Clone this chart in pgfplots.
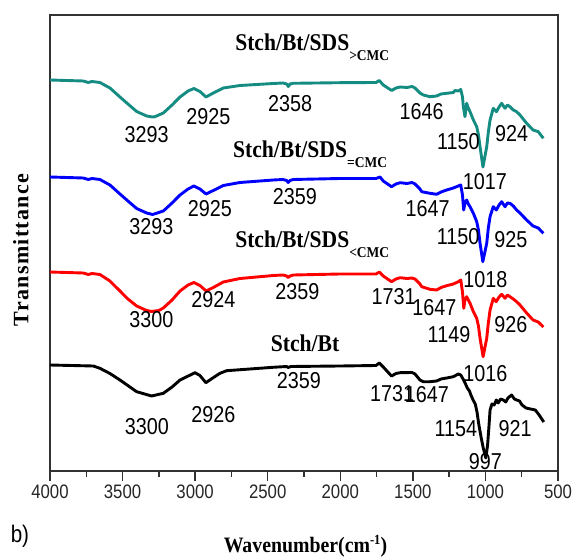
\documentclass[border=0pt]{standalone}
\usepackage{fontspec}
\setmainfont{Liberation Serif}
\newfontfamily\numfont{Liberation Sans}[FakeStretch=0.86]
\newfontfamily\tfont{Liberation Serif}[FakeStretch=0.9]
\newfontfamily\yfont{Liberation Serif}[LetterSpace=6]
\usepackage{pgfplots}
\pgfplotsset{compat=1.18}
\definecolor{tealc}{RGB}{20,140,130}
\definecolor{axgray}{RGB}{50,50,50}
\newcommand{\ann}[1]{{\numfont\fontsize{23}{23}\selectfont #1}}
\newcommand{\ttl}[2]{{\tfont\bfseries\fontsize{24}{24}\selectfont #1\raisebox{-10pt}{\fontsize{15}{15}\selectfont #2}}}
\begin{document}
\begin{tikzpicture}
\begin{axis}[
 scale only axis, width=508pt, height=456pt,
 at={(0,0)}, anchor=south west,
 xmin=500, xmax=4000, x dir=reverse,
 ymin=-471, ymax=-15,
 axis line style={line width=1.3pt, draw=axgray},
 ytick=\empty,
 xtick={500,1000,1500,2000,2500,3000,3500,4000},
 minor xtick={750,1250,1750,2250,2750,3250,3750},
 xtick pos=left,
 xtick align=outside,
 major tick length=10pt, minor tick length=6pt,
 every major tick/.append style={line width=1.4pt, draw=axgray},
 every minor tick/.append style={line width=1.4pt, draw=axgray},
 xticklabel style={font=\numfont\fontsize{19.5}{19.5}\selectfont, text=black!85},
 /pgf/number format/assume math mode=true,
 /pgf/number format/1000 sep={},
 clip=false,
 every axis plot/.append style={line width=2.9pt, line join=round},
]
% teal
\addplot[color=tealc] coordinates {
(4000,-80)(3771,-81)(3736,-82.5)(3711,-81.5)(3656,-82.5)(3587,-88)(3518,-97)(3463,-104)(3403,-111.5)(3334,-116)(3293,-117)(3277,-116.7)(3219,-113)(3159,-105)(3104,-97)(3049,-91)(3008,-88.5)(2967,-91.5)(2925,-97)(2875,-93)(2806,-88)(2691,-85.5)(2461,-83.5)(2395,-83)(2369,-84)(2358,-86.5)(2346,-84)(2324,-83.3)(2002,-82.7)(1754,-82.5)(1731,-80.5)(1704,-85)(1646,-90.5)(1616,-88)(1588,-87)(1540,-87.5)(1506,-86.5)(1485,-88)(1451,-93)(1428,-95)(1382,-96.7)(1336,-96)(1306,-94)(1267,-93.3)(1221,-92.5)(1210,-90.5)(1187,-91)(1170,-89.5)(1158,-97)(1152,-106.7)(1141,-116.7)(1129,-103.3)(1118,-108)(1106,-111.7)(1083,-120)(1060,-126.7)(1048,-135)(1037,-146.7)(1017,-167)(991,-146.7)(980,-132)(968,-120)(946,-108.3)(924,-111.7)(906,-107)(888,-103.3)(865,-108.3)(848,-105)(831,-106.7)(808,-110)(785,-111.7)(762,-115)(716,-123.3)(672,-130)(636,-131.7)(601,-138.3)
};
% blue
\addplot[color=blue] coordinates {
(4000,-177)(3771,-178)(3736,-179.5)(3711,-178.5)(3656,-179.5)(3587,-185)(3518,-194)(3463,-201)(3403,-208.5)(3334,-213)(3293,-214.5)(3219,-211)(3159,-203)(3104,-195)(3049,-189)(3008,-186)(2967,-189)(2925,-194)(2875,-190.5)(2806,-185.5)(2691,-182.5)(2461,-180)(2395,-179.5)(2369,-180.5)(2359,-182.5)(2346,-180.5)(2324,-179.5)(2002,-178.5)(1754,-178.5)(1726,-177)(1704,-181)(1647,-186.7)(1616,-184)(1588,-182.7)(1540,-183.5)(1506,-182.5)(1485,-184)(1451,-189)(1439,-191.7)(1382,-193.3)(1336,-194.3)(1306,-192)(1267,-190)(1221,-188)(1187,-186)(1170,-185)(1158,-195)(1150,-210)(1141,-203)(1129,-200)(1118,-204)(1106,-206.7)(1083,-213.3)(1060,-221.7)(1048,-230)(1037,-243.3)(1018,-261.7)(991,-243.3)(980,-228)(968,-216.7)(946,-206.7)(925,-210)(906,-205)(888,-201.7)(865,-206.7)(848,-203)(831,-203.3)(808,-206)(785,-210)(762,-213)(716,-220)(672,-226)(636,-228)(601,-233.3)
};
% red
\addplot[color=red] coordinates {
(4000,-272)(3771,-273)(3736,-274.5)(3711,-273.5)(3656,-274.5)(3587,-281)(3518,-291)(3463,-299)(3403,-306)(3334,-310.5)(3300,-311.5)(3250,-310.5)(3219,-308)(3159,-300)(3104,-291)(3049,-285)(3008,-282.5)(2967,-285.5)(2924,-291)(2875,-287.5)(2806,-282)(2691,-278.5)(2461,-275.5)(2395,-275)(2369,-276)(2359,-277.5)(2346,-276)(2324,-275)(2002,-274)(1754,-274)(1731,-272)(1704,-276)(1647,-281.7)(1616,-279)(1588,-277.7)(1540,-278.5)(1506,-278)(1485,-279)(1451,-284)(1439,-286.7)(1382,-289.3)(1336,-290)(1306,-287.5)(1267,-285.7)(1221,-284)(1187,-281.7)(1170,-280)(1158,-292)(1149,-308.3)(1141,-300)(1129,-296.7)(1118,-300)(1106,-303.3)(1083,-311.7)(1060,-318.3)(1048,-326)(1037,-338.3)(1016,-356.7)(991,-338.3)(980,-323)(968,-310)(946,-298.3)(926,-301.7)(906,-297)(888,-294.3)(865,-298.3)(848,-295)(831,-296.7)(808,-299)(785,-301.7)(762,-305)(716,-313)(672,-320)(636,-322)(601,-327)
};
% black
\addplot[color=black] coordinates {
(4000,-365)(3702,-366)(3656,-368.3)(3587,-373.5)(3518,-380)(3403,-391.7)(3300,-396)(3219,-393.3)(3159,-387)(3104,-380)(3001,-372.7)(2967,-375.5)(2926,-382.7)(2884,-378.5)(2829,-373.3)(2783,-370.7)(2464,-367.3)(2370,-366.5)(2359,-367.5)(2340,-366.5)(2002,-366)(1754,-365.5)(1731,-363)(1704,-367)(1647,-376)(1616,-373.5)(1588,-372.7)(1506,-372.5)(1485,-374)(1451,-380)(1428,-381.7)(1382,-381.7)(1336,-381)(1306,-379)(1267,-378)(1221,-376.7)(1187,-374)(1170,-375)(1158,-378)(1140,-383)(1125,-388)(1110,-391)(1100,-395)(1085,-400)(1070,-404)(1058,-412)(1045,-425)(1030,-437)(1015,-448)(997,-458)(985,-445)(975,-425)(968,-410)(955,-404)(940,-405)(925,-400)(912,-403)(895,-399)(877,-400)(860,-402)(845,-398)(820,-395)(800,-399)(785,-400)(765,-401)(748,-405)(720,-408)(690,-409)(656,-410)(630,-415)(598,-422)
};
% tick marks (axis decoration)
\pgfplotsinvokeforeach{500,1000,1500,2000,2500,3000,3500,4000}{\draw[axgray, line width=1.4pt] (axis cs:#1,-471) -- ++(0pt,-10pt);}
\pgfplotsinvokeforeach{750,1250,1750,2250,2750,3250,3750}{\draw[axgray, line width=1.4pt] (axis cs:#1,-471) -- ++(0pt,-6pt);}
% teal labels
\node at (axis cs:3334,-135) {\ann{3293}};
\node at (axis cs:2909,-116.7) {\ann{2925}};
\node at (axis cs:2346,-103.3) {\ann{2358}};
\node at (axis cs:1439,-112) {\ann{1646}};
\node at (axis cs:1187,-142) {\ann{1150}};
\node at (axis cs:819,-134) {\ann{924}};
\node at (axis cs:1003,-181.7) {\ann{1017}};
% blue labels
\node at (axis cs:3301,-226.7) {\ann{3293}};
\node at (axis cs:2899,-208.3) {\ann{2925}};
\node at (axis cs:2313,-196.7) {\ann{2359}};
\node at (axis cs:1399,-208.3) {\ann{1647}};
\node at (axis cs:1188,-236.7) {\ann{1150}};
\node at (axis cs:825,-240) {\ann{925}};
\node at (axis cs:1000,-280) {\ann{1018}};
% red labels
\node at (axis cs:3301,-320) {\ann{3300}};
\node at (axis cs:2874,-300) {\ann{2924}};
\node at (axis cs:2296,-291.7) {\ann{2359}};
\node at (axis cs:1633,-297) {\ann{1731}};
\node at (axis cs:1351,-307.5) {\ann{1647}};
\node at (axis cs:1251,-335) {\ann{1149}};
\node at (axis cs:825,-325) {\ann{926}};
\node at (axis cs:1000,-374) {\ann{1016}};
% black labels
\node at (axis cs:3332,-426.7) {\ann{3300}};
\node at (axis cs:2874,-414.5) {\ann{2926}};
\node at (axis cs:2286,-380.3) {\ann{2359}};
\node at (axis cs:1642,-393.3) {\ann{1731}};
\node at (axis cs:1403,-395) {\ann{1647}};
\node at (axis cs:1204,-428.3) {\ann{1154}};
\node at (axis cs:796,-428.3) {\ann{921}};
\node at (axis cs:1001,-462) {\ann{997}};
% titles
\node[anchor=base west, inner sep=0pt] at (axis cs:2725,-51) {\ttl{Stch/Bt/SDS}{>CMC}};
\node[anchor=base west, inner sep=0pt] at (axis cs:2740,-158) {\ttl{Stch/Bt/SDS}{=CMC}};
\node[anchor=base west, inner sep=0pt] at (axis cs:2725,-248) {\ttl{Stch/Bt/SDS}{<CMC}};
\node[anchor=base west, inner sep=0pt] at (axis cs:2480,-352) {\ttl{Stch/Bt}{}};
% axis labels
\node[anchor=base, inner sep=0pt] at (axis cs:2240,-552) {\tfont\bfseries\fontsize{22}{22}\selectfont Wavenumber(cm\raisebox{8pt}{\fontsize{14}{14}\selectfont -1})};
\node[rotate=90] at (axis cs:4200,-250) {\yfont\bfseries\fontsize{22}{22}\selectfont Transmittance};
\node at (axis cs:4207,-536) {\numfont\fontsize{24}{24}\selectfont b)};
\end{axis}
\pgfresetboundingbox
\path (-50pt,-88pt) rectangle (522pt,471pt);
\end{tikzpicture}
\end{document}
